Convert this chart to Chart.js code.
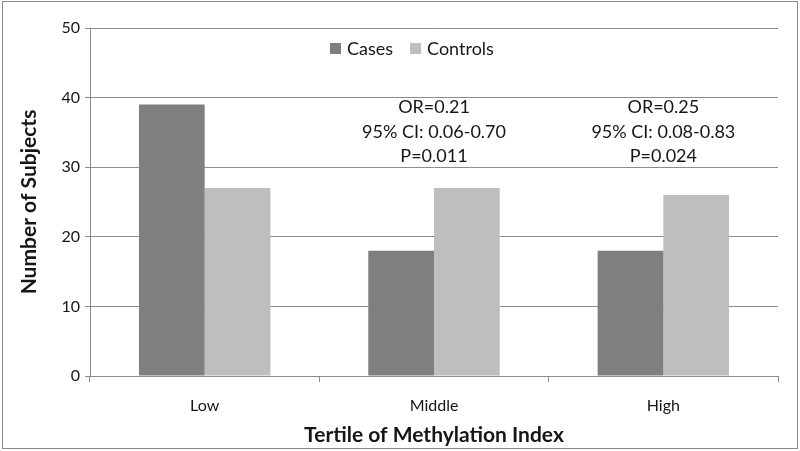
<!DOCTYPE html>
<html>
<head>
<meta charset="utf-8">
<script src="https://cdn.jsdelivr.net/npm/chart.js@4/dist/chart.umd.min.js"></script>
<style>
  html, body { margin: 0; padding: 0; background: #fff; }
  #wrap { width: 800px; height: 451px; position: relative; }
</style>
</head>
<body>
<div id="wrap"><canvas id="chart" width="800" height="451"></canvas></div>
<script>
// data
var categories = ['Low', 'Middle', 'High'];
var cases = [39, 18, 18];
var controls = [27, 27, 26];
var seriesNames = ['Cases', 'Controls'];
var yTicks = [0, 10, 20, 30, 40, 50];
var noteCategories = ['Middle', 'High'];
var noteLines = [
  ['OR=0.21', '95% CI: 0.06-0.70', 'P=0.011'],
  ['OR=0.25', '95% CI: 0.08-0.83', 'P=0.024']
];

var FONT = "Lato, 'Open Sans', sans-serif";
var GRID = '#8c8c8c';
var TEXT = '#161616';
var colors = ['#7f7f7f', '#bebebe'];

// frame around whole figure
var framePlugin = {
  id: 'frame',
  afterDraw: function(chart) {
    var c = chart.ctx;
    c.save();
    c.strokeStyle = '#8a8a8a';
    c.lineWidth = 1;
    c.strokeRect(2.5, 1.5, 795, 447);
    c.restore();
  }
};

// legend inside the plot + OR annotations
var notesPlugin = {
  id: 'notes',
  afterDraw: function(chart) {
    var c = chart.ctx, x = chart.scales.x, y = chart.scales.y;
    c.save();
    c.font = '18px ' + FONT;
    c.fillStyle = TEXT;
    c.textBaseline = 'middle';

    // legend
    var lx = 330, ly = 48;
    chart.data.datasets.forEach(function(ds, i) {
      c.fillStyle = ds.backgroundColor;
      c.fillRect(lx, ly - 5, 11, 11);
      c.fillStyle = TEXT;
      c.textAlign = 'left';
      c.fillText(ds.label, lx + 17, ly + 1);
      lx += 17 + c.measureText(ds.label).width + 17;
    });

    // annotations
    c.textAlign = 'center';
    noteCategories.forEach(function(cat, i) {
      var cx = x.getPixelForValue(categories.indexOf(cat));
      var top = y.getPixelForValue(38.6);
      noteLines[i].forEach(function(t, j) {
        c.fillText(t, cx, top + j * 24.5);
      });
    });
    c.restore();
  }
};

new Chart(document.getElementById('chart').getContext('2d'), {
  type: 'bar',
  data: {
    labels: categories,
    datasets: [
      { label: seriesNames[0], data: cases, backgroundColor: colors[0] },
      { label: seriesNames[1], data: controls, backgroundColor: colors[1] }
    ]
  },
  options: {
    responsive: false,
    animation: false,
    devicePixelRatio: 1,
    layout: { padding: { top: 28, right: 22, left: 0, bottom: 0 } },
    datasets: { bar: { barPercentage: 1, categoryPercentage: 0.573 } },
    plugins: {
      legend: { display: false },
      tooltip: { enabled: false }
    },
    scales: {
      x: {
        afterFit: function(s) { s.height = 75; },
        grid: { drawOnChartArea: false, drawTicks: true, tickLength: 6, color: GRID, offset: true },
        border: { color: GRID },
        ticks: { color: TEXT, font: { family: FONT, size: 16 }, padding: 14 },
        title: {
          display: true, text: 'Tertile of Methylation Index', color: TEXT,
          font: { family: FONT, size: 21, weight: 'bold' }, padding: { top: 0, bottom: 3 }
        }
      },
      y: {
        min: 0, max: 50,
        afterFit: function(s) { s.width = 90; },
        afterBuildTicks: function(s) { s.ticks = yTicks.map(function(v) { return { value: v }; }); },
        grid: { color: GRID, tickLength: 5 },
        border: { color: GRID },
        ticks: { color: TEXT, font: { family: FONT, size: 16 }, padding: 5 },
        title: {
          display: true, text: 'Number of Subjects', color: TEXT,
          font: { family: FONT, size: 21, weight: 'bold' }, padding: { top: 17, bottom: 0 }
        }
      }
    }
  },
  plugins: [framePlugin, notesPlugin]
});
</script>
</body>
</html>
